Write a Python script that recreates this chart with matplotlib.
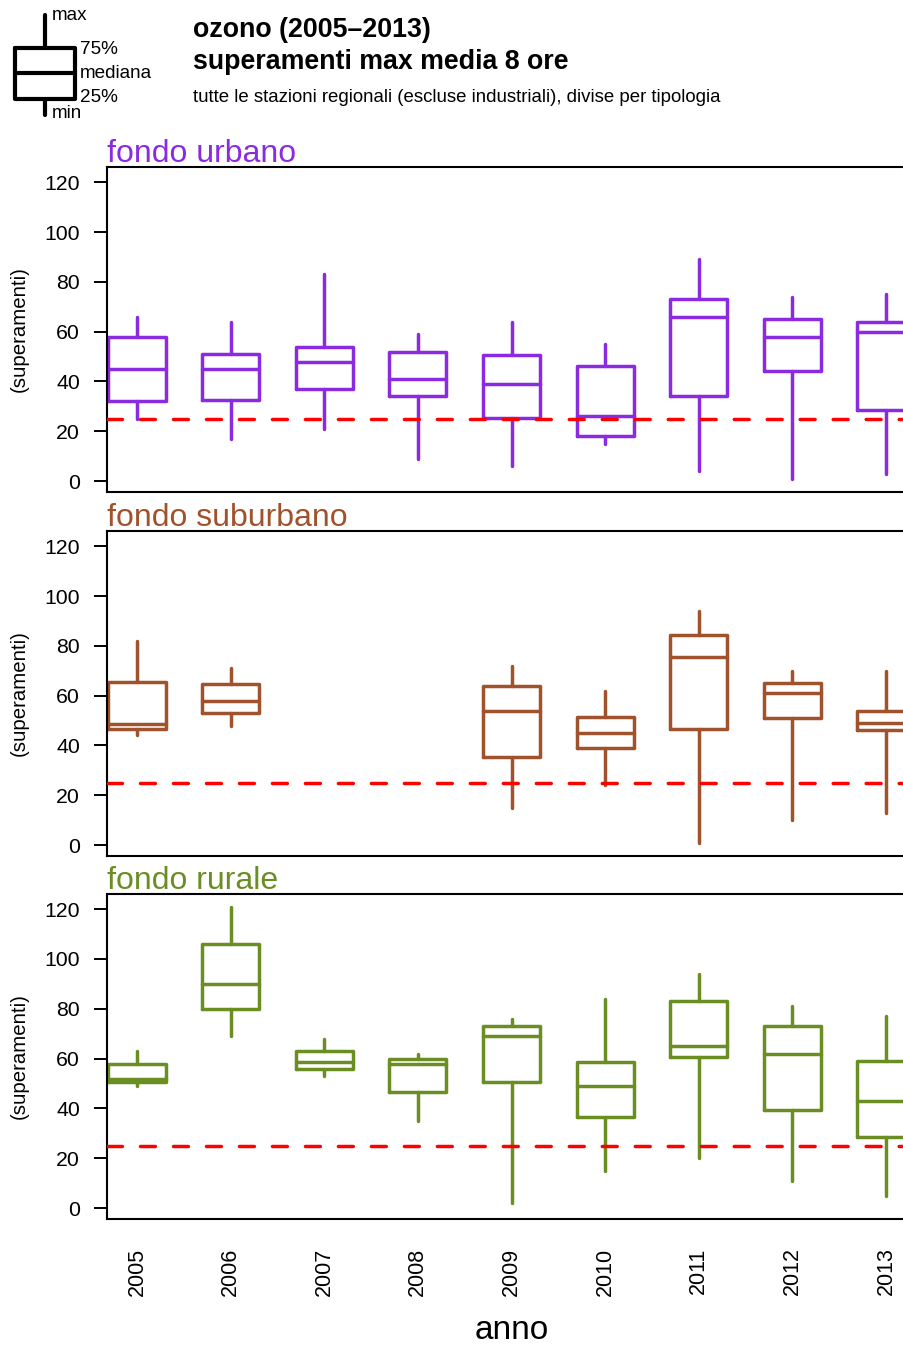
import numpy as np
import matplotlib
matplotlib.use("Agg")
import matplotlib.pyplot as plt

plt.rcParams['font.family'] = ['Liberation Sans', 'DejaVu Sans']

anni = [2005, 2006, 2007, 2008, 2009, 2010, 2011, 2012, 2013]
soglia = 25

# fondo urbano
urb_min = [25, 17, 21, 9, 6, 15, 4, 1, 3]
urb_q1 = [32, 32.5, 37, 34, 25.5, 18, 34, 44, 28.5]
urb_med = [45, 45, 48, 41, 39, 26, 66, 58, 60]
urb_q3 = [58, 51, 54, 52, 50.5, 46, 73, 65, 64]
urb_max = [66, 64, 83, 59, 64, 55, 89, 74, 75]

# fondo suburbano (2007 e 2008 mancanti)
sub_min = [44, 48, None, None, 15, 24, 1, 10, 13]
sub_q1 = [46.5, 53, None, None, 35.5, 39, 46.5, 51, 46]
sub_med = [48.5, 58, None, None, 54, 45, 75.5, 61, 49]
sub_q3 = [65.5, 64.5, None, None, 64, 51.5, 84.5, 65, 54]
sub_max = [82, 71, None, None, 72, 62, 94, 70, 70]

# fondo rurale
rur_min = [49, 69, 53, 35, 2, 15, 20, 11, 5]
rur_q1 = [50.5, 80, 56, 46.5, 50.5, 36.5, 60.5, 39.5, 28.5]
rur_med = [52, 90, 58.5, 58, 69, 49, 65, 62, 43]
rur_q3 = [58, 106, 63, 60, 73, 58.5, 83, 73, 59]
rur_max = [63, 121, 68, 62, 76, 84, 94, 81, 77]

pannelli = [
    ("fondo urbano", "#8A2BE2", urb_min, urb_q1, urb_med, urb_q3, urb_max),
    ("fondo suburbano", "#A0522D", sub_min, sub_q1, sub_med, sub_q3, sub_max),
    ("fondo rurale", "#6B8E23", rur_min, rur_q1, rur_med, rur_q3, rur_max),
]

W, H = 904, 1347
fig = plt.figure(figsize=(W / 100, H / 100), dpi=100)

# posizioni dei pannelli in pixel (top, bottom)
righe = [(167, 492), (531, 856), (894, 1219)]
x0, x1 = 107, 916

for i, (nome, col, vmin, q1, med, q3, vmax) in enumerate(pannelli):
    top, bot = righe[i]
    ax = fig.add_axes([x0 / W, 1 - bot / H, (x1 - x0) / W, (bot - top) / H])

    stats = []
    pos = []
    for j, a in enumerate(anni):
        if med[j] is None:
            continue
        stats.append(dict(med=med[j], q1=q1[j], q3=q3[j],
                          whislo=vmin[j], whishi=vmax[j], fliers=[]))
        pos.append(a)

    lp = dict(color=col, linewidth=2.5, solid_capstyle='round', solid_joinstyle='round')
    ax.bxp(stats, positions=pos, widths=0.61, showcaps=False, showfliers=False,
           boxprops=lp, whiskerprops=lp, medianprops=lp, manage_ticks=False)

    ax.axhline(soglia, color='red', linewidth=2.5, dashes=(4.3, 5.2),
               dash_capstyle='round', zorder=3)

    ax.set_xlim(2004.68, 2013.32)
    ax.set_ylim(-4.4, 126.1)
    ax.set_yticks([0, 20, 40, 60, 80, 100, 120])
    ax.tick_params(axis='y', length=9.5, width=1.4, labelsize=15.3, pad=10)
    ax.set_xticks(anni)
    if i < 2:
        ax.tick_params(axis='x', length=0, labelbottom=False)
    else:
        ax.set_xticklabels([str(a) for a in anni], rotation=90)
        ax.tick_params(axis='x', length=0, labelsize=15.5, pad=20.5)
        ax.set_xlabel("anno", fontsize=24, labelpad=14)
    for s in ax.spines.values():
        s.set_linewidth(1.5)

    ax.set_ylabel("(superamenti)", fontsize=14.7)
    ax.yaxis.set_label_coords(-0.097, 0.5)

    ax.text(0, 1.015, nome, transform=ax.transAxes, color=col,
            fontsize=23, ha='left', va='baseline')

# legenda schematica e titoli, in coordinate pixel
lg = fig.add_axes([0, 0, 1, 1])
lg.set_xlim(0, W)
lg.set_ylim(H, 0)
lg.axis('off')
lg.patch.set_alpha(0)

kw = dict(color='black', linewidth=3, solid_capstyle='round', solid_joinstyle='round')
lg.plot([15, 75, 75, 15, 15], [48, 48, 99, 99, 48], **kw)
lg.plot([15, 75], [73, 73], **kw)
lg.plot([45, 45], [15, 48], **kw)
lg.plot([45, 45], [99, 115], **kw)
fs = 13.6
lg.text(52, 16, "max", fontsize=fs, va='center', ha='left')
lg.text(80, 49, "75%", fontsize=fs, va='center', ha='left')
lg.text(80, 73, "mediana", fontsize=fs, va='center', ha='left')
lg.text(80, 98, "25%", fontsize=fs, va='center', ha='left')
lg.text(52, 114, "min", fontsize=fs, va='center', ha='left')

lg.text(193, 30, "ozono (2005\u20132013)", fontsize=19.3, fontweight='bold', va='center', ha='left')
lg.text(193, 62, "superamenti max media 8 ore", fontsize=19.3, fontweight='bold', va='center', ha='left')
lg.text(193, 97, "tutte le stazioni regionali (escluse industriali), divise per tipologia",
        fontsize=13.45, va='center', ha='left')

fig.savefig("out.png", dpi=100)
